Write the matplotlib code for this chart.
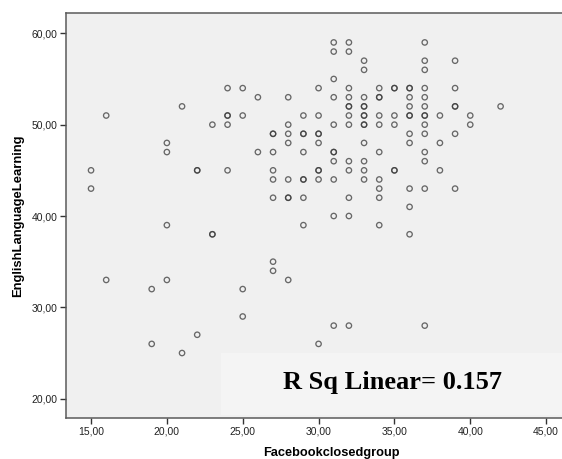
import matplotlib
matplotlib.use("Agg")
import matplotlib.pyplot as plt
from matplotlib.patches import Rectangle

# Data (Facebook closed group score vs English language learning score); duplicates repeated
facebook = [
    15, 15,
    16, 16,
    19, 19,
    20, 20, 20, 20,
    21, 21,
    22, 22, 22,
    23, 23, 23,
    24, 24, 24, 24, 24,
    25, 25, 25, 25,
    26, 26,
    27, 27, 27, 27, 27, 27, 27, 27,
    28, 28, 28, 28, 28, 28, 28, 28,
    29, 29, 29, 29, 29, 29, 29, 29,
    30, 30, 30, 30, 30, 30, 30, 30, 30,
    31, 31, 31, 31, 31, 31, 31, 31, 31, 31, 31,
    32, 32, 32, 32, 32, 32, 32, 32, 32, 32, 32, 32, 32,
    33, 33, 33, 33, 33, 33, 33, 33, 33, 33, 33, 33, 33,
    34, 34, 34, 34, 34, 34, 34, 34, 34, 34,
    35, 35, 35, 35, 35, 35,
    36, 36, 36, 36, 36, 36, 36, 36, 36, 36, 36,
    37, 37, 37, 37, 37, 37, 37, 37, 37, 37, 37, 37, 37, 37,
    38, 38, 38,
    39, 39, 39, 39, 39, 39,
    40, 40,
    42,
]
english = [
    45, 43,
    51, 33,
    32, 26,
    48, 47, 39, 33,
    52, 25,
    45, 45, 27,
    50, 38, 38,
    54, 51, 51, 50, 45,
    54, 51, 32, 29,
    53, 47,
    49, 49, 47, 45, 44, 42, 35, 34,
    53, 50, 49, 48, 44, 42, 42, 33,
    51, 49, 49, 47, 44, 44, 42, 39,
    54, 51, 49, 49, 48, 45, 45, 44, 26,
    59, 58, 55, 53, 50, 47, 47, 46, 44, 40, 28,
    59, 58, 54, 53, 52, 52, 51, 50, 46, 45, 42, 40, 28,
    57, 56, 53, 52, 52, 51, 51, 50, 50, 48, 46, 45, 44,
    54, 53, 53, 51, 50, 47, 44, 43, 42, 39,
    54, 54, 51, 50, 45, 45,
    54, 54, 53, 52, 51, 51, 49, 48, 43, 41, 38,
    59, 57, 56, 54, 53, 52, 51, 51, 50, 49, 47, 46, 43, 28,
    51, 48, 45,
    57, 54, 52, 52, 49, 43,
    51, 50,
    52,
]
x_ticks = [15, 20, 25, 30, 35, 40, 45]
x_tick_labels = ["15,00", "20,00", "25,00", "30,00", "35,00", "40,00", "45,00"]
y_ticks = [20, 30, 40, 50, 60]
y_tick_labels = ["20,00", "30,00", "40,00", "50,00", "60,00"]
x_label = "Facebookclosedgroup"
y_label = "EnglishLanguageLearning"
r_sq_text = "R Sq Linear= 0.157"

W, H = 562, 459
fig = plt.figure(figsize=(W / 100, H / 100), dpi=100)
fig.patch.set_facecolor("white")

left, right, top, bottom = 65.7, 596.0, 13.3, 418.3
ax = fig.add_axes([left / W, 1 - bottom / H, (right - left) / W, (bottom - top) / H])
ax.set_facecolor("#f0f0f0")
ax.set_xlim(13.33, 48.29)
ax.set_ylim(17.855, 62.19)

# R Sq box
ax.add_patch(Rectangle((0.293, 0.008), 0.9, 0.154, transform=ax.transAxes,
                       facecolor="#f4f4f4", edgecolor="none", zorder=1))
ax.text(0.41, 0.072, r_sq_text, transform=ax.transAxes, ha="left", va="baseline",
        fontsize=19, fontweight="bold", family="Liberation Serif", color="black", zorder=3)

ax.scatter(facebook, english, s=15, facecolors="none", edgecolors="#3a3a3a",
           linewidths=0.95, alpha=0.75, zorder=2)

for side in ["top", "left", "bottom", "right"]:
    ax.spines[side].set_color("#5a5a5a")
    ax.spines[side].set_linewidth(1.1)

ax.set_xticks(x_ticks)
ax.set_xticklabels(x_tick_labels)
ax.set_yticks(y_ticks)
ax.set_yticklabels(y_tick_labels)
ax.tick_params(direction="out", length=4, width=1, color="#333333",
               labelsize=7.5, labelcolor="#222222", pad=2)
for lab in ax.get_xticklabels() + ax.get_yticklabels():
    lab.set_family("Liberation Sans")

fig.text(331 / W, 1 - 455.8 / H, x_label, ha="center", va="baseline",
         fontsize=9.2, fontweight="bold", family="Liberation Sans", color="black")
fig.text(18.3 / W, 1 - 215.5 / H, y_label, ha="center", va="center", rotation=90,
         fontsize=9.4, fontweight="bold", family="Liberation Sans", color="black")

fig.savefig("out.png", dpi=100)
